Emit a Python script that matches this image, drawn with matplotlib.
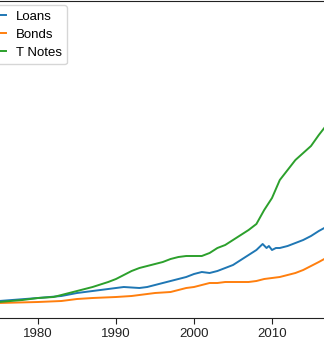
import matplotlib
matplotlib.use("Agg")
import matplotlib.pyplot as plt

plt.rcParams['font.family'] = ['Liberation Sans', 'DejaVu Sans']

years_tn = [1974, 1975, 1978, 1980, 1982, 1983, 1985, 1987, 1989, 1990, 1991, 1992, 1993,
            1994, 1995, 1996, 1997, 1998, 1999, 2000, 2001, 2002, 2003, 2004, 2005,
            2006, 2007, 2008, 2009, 2010, 2011, 2012, 2013, 2014, 2015, 2016, 2016.7]
t_notes = [15, 16, 18, 20, 21, 23, 27, 31, 36, 39, 43, 47, 50,
           52, 54, 56, 59, 61, 62, 62, 62, 65, 70, 73, 78,
           83, 88, 94, 108, 120, 138, 148, 158, 165, 172, 183, 190]

years_ln = [1974, 1975, 1980, 1983, 1985, 1987, 1989, 1990, 1991, 1993, 1994, 1995, 1996,
            1997, 1998, 1999, 2000, 2001, 2002, 2003, 2004, 2005, 2006, 2007, 2008,
            2008.8, 2009.3, 2009.6, 2010, 2010.5, 2011, 2012, 2013, 2014, 2015, 2016, 2016.7]
loans = [16, 17, 20, 22, 25, 27, 29, 30, 31, 30, 31, 33, 35,
         37, 39, 41, 44, 46, 45, 47, 50, 53, 58, 63, 68,
         74, 70, 72, 68, 70, 70, 72, 75, 78, 82, 87, 90]

years_bd = [1974, 1975, 1980, 1983, 1985, 1987, 1990, 1992, 1994, 1995, 1997, 1998, 1999,
            2000, 2001, 2002, 2003, 2004, 2005, 2006, 2007, 2008, 2009, 2010, 2011,
            2012, 2013, 2014, 2015, 2016, 2016.7]
bonds = [15, 15, 16, 17, 19, 20, 21, 22, 24, 25, 26, 28, 30,
         31, 33, 35, 35, 36, 36, 36, 36, 37, 39, 40, 41,
         43, 45, 48, 52, 56, 59]

xticks = [1980, 1990, 2000, 2010]

W, H = 324, 346
fig = plt.figure(figsize=(W / 100, H / 100), dpi=100)

# axes extends beyond the visible crop on left and right
px_per_year = 7.8
left_px, right_px = -60, 390
top_px, bottom_px = 0.5, 318
ax = fig.add_axes([left_px / W, (H - bottom_px) / H,
                   (right_px - left_px) / W, (bottom_px - top_px) / H])
ax.set_xlim(1980 + (left_px - 38) / px_per_year, 1980 + (right_px - 38) / px_per_year)
ax.set_ylim(0, 318 - top_px)

lw = 1.4
ax.plot(years_ln, loans, color='#1f77b4', lw=lw, label='Loans')
ax.plot(years_bd, bonds, color='#ff7f0e', lw=lw, label='Bonds')
ax.plot(years_tn, t_notes, color='#2ca02c', lw=lw, label='T Notes')

ax.set_xticks(xticks)
ax.set_xticklabels([str(t) for t in xticks], fontsize=9.5)
ax.tick_params(axis='x', length=4, width=0.8, pad=3, colors='#222222')
ax.set_yticks([])
for s in ['left', 'right']:
    ax.spines[s].set_visible(False)
ax.spines['top'].set_color('#222222')
ax.spines['bottom'].set_color('#222222')

leg = ax.legend(loc='upper right', bbox_to_anchor=(67 / W, 1 - 5 / H),
                bbox_transform=fig.transFigure, borderaxespad=0,
                fontsize=9.5, labelspacing=0.45, handlelength=2.0, handletextpad=0.7)
leg.get_frame().set_edgecolor('#cccccc')

fig.savefig('out.png', dpi=100)
